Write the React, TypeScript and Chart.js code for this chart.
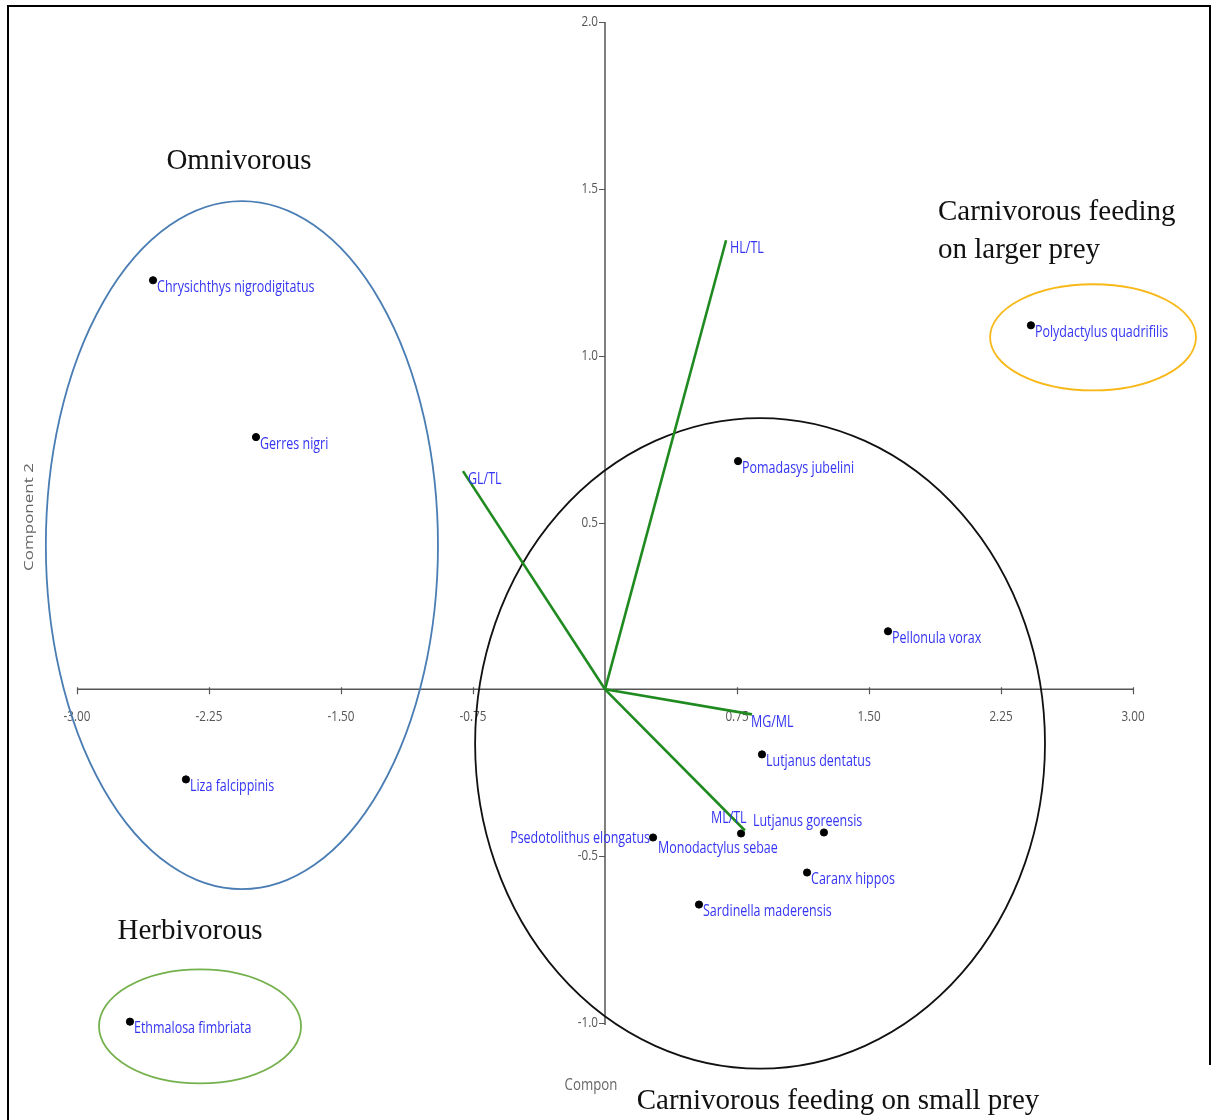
import React, { useEffect, useRef } from "react";
import { Chart, registerables } from "chart.js";

Chart.register(...registerables);

// Species scores on the first two principal components
const speciesNames = [
  "Chrysichthys nigrodigitatus",
  "Gerres nigri",
  "Liza falcippinis",
  "Ethmalosa fimbriata",
  "Polydactylus quadrifilis",
  "Pomadasys jubelini",
  "Pellonula vorax",
  "Lutjanus dentatus",
  "Lutjanus goreensis",
  "Monodactylus sebae",
  "Psedotolithus elongatus",
  "Caranx hippos",
  "Sardinella maderensis",
];
const speciesPC1 = [-2.568, -1.983, -2.381, -2.699, 2.42, 0.756, 1.608, 0.892, 1.244, 0.773, 0.273, 1.148, 0.534];
const speciesPC2 = [1.226, 0.756, -0.27, -0.996, 1.091, 0.684, 0.174, -0.195, -0.429, -0.432, -0.444, -0.549, -0.645];
// label anchor per species: [alignment, dx, dy] in px from the dot
const speciesLabelStyle: [CanvasTextAlign, number, number][] = [
  ["left", 4, 7], ["left", 4, 7], ["left", 4, 7], ["left", 4, 7], ["left", 4, 7],
  ["left", 4, 7], ["left", 4, 7], ["left", 4, 7], ["left", -71, -11], ["left", -83, 15],
  ["right", -3, 1], ["left", 4, 7], ["left", 4, 7],
];

// Variable loadings (biplot vectors)
const loadingNames = ["HL/TL", "GL/TL", "MG/ML", "ML/TL"];
const loadingPC1 = [0.688, -0.807, 0.835, 0.795];
const loadingPC2 = [1.346, 0.654, -0.075, -0.423];
const loadingLabelStyle: [CanvasTextAlign, number, number][] = [
  ["left", 4, 8], ["left", 5, 8], ["left", -1, 8], ["left", -34, -12],
];

// Axis ticks
const xTicks = [-3, -2.25, -1.5, -0.75, 0.75, 1.5, 2.25, 3];
const xTickLabels = ["-3.00", "-2.25", "-1.50", "-0.75", "0.75", "1.50", "2.25", "3.00"];
const yTicks = [2, 1.5, 1, 0.5, -0.5, -1];
const yTickLabels = ["2.0", "1.5", "1.0", "0.5", "-0.5", "-1.0"];

// Feeding groups: ellipse centre / radii in component units
const groupCenterX = [-2.063, 0.881, 2.773, -2.301];
const groupCenterY = [0.432, -0.162, 1.055, -1.01];
const groupRadiusX = [1.114, 1.619, 0.585, 0.574];
const groupRadiusY = [1.031, 0.975, 0.159, 0.171];
const groupColors = ["#4a7db3", "#111111", "#f8b818", "#74b04c"];

// Group captions (text, x, y in component units, alignment)
const captionLines = [
  "Omnivorous",
  "Carnivorous feeding",
  "on larger prey",
  "Herbivorous",
  "Carnivorous feeding on small prey",
];
const captionX = [-2.08, 1.892, 1.892, -2.358, 1.324];
const captionY = [1.583, 1.43, 1.316, -0.726, -1.235];
const captionAlign: CanvasTextAlign[] = ["center", "left", "left", "center", "center"];

const SQUEEZE = 0.78;

function squeezedText(
  ctx: CanvasRenderingContext2D,
  text: string,
  x: number,
  y: number,
  font: string,
  color: string,
  align: CanvasTextAlign,
  sx = SQUEEZE
) {
  ctx.save();
  ctx.translate(x, y);
  ctx.scale(sx, 1);
  ctx.font = font;
  ctx.fillStyle = color;
  ctx.textAlign = align;
  ctx.textBaseline = "middle";
  ctx.fillText(text, 0, 0);
  ctx.restore();
}

const biplotDecor = {
  id: "biplotDecor",
  beforeDraw(chart: any) {
    const ctx: CanvasRenderingContext2D = chart.ctx;
    ctx.save();
    ctx.fillStyle = "#ffffff";
    ctx.fillRect(0, 0, chart.width, chart.height);
    // outer frame
    ctx.strokeStyle = "#000";
    ctx.lineWidth = 2;
    ctx.beginPath();
    ctx.moveTo(8, 1120);
    ctx.lineTo(8, 6);
    ctx.lineTo(1210, 6);
    ctx.lineTo(1210, 1065);
    ctx.stroke();
    ctx.restore();
  },
  beforeDatasetsDraw(chart: any) {
    const ctx: CanvasRenderingContext2D = chart.ctx;
    const xs = chart.scales.x;
    const ys = chart.scales.y;
    const x0 = xs.getPixelForValue(0);
    const y0 = ys.getPixelForValue(0);
    ctx.save();
    // axes through the origin
    ctx.strokeStyle = "#555";
    ctx.lineWidth = 1.5;
    ctx.beginPath();
    ctx.moveTo(xs.getPixelForValue(-3), y0);
    ctx.lineTo(xs.getPixelForValue(3), y0);
    ctx.moveTo(x0, ys.getPixelForValue(2));
    ctx.lineTo(x0, ys.getPixelForValue(-1) + 2);
    ctx.stroke();
    ctx.lineWidth = 1.2;
    ctx.beginPath();
    xTicks.forEach((v) => {
      const px = Math.round(xs.getPixelForValue(v)) + 0.5;
      ctx.moveTo(px, y0 - 2);
      ctx.lineTo(px, y0 + 5);
    });
    yTicks.forEach((v) => {
      const py = Math.round(ys.getPixelForValue(v)) + 0.5;
      ctx.moveTo(x0 - 6, py);
      ctx.lineTo(x0, py);
    });
    ctx.stroke();
    xTicks.forEach((v, i) => {
      squeezedText(ctx, xTickLabels[i], xs.getPixelForValue(v), y0 + 27, "15px 'Open Sans'", "#555", "center");
    });
    yTicks.forEach((v, i) => {
      squeezedText(ctx, yTickLabels[i], x0 - 7, ys.getPixelForValue(v), "15px 'Open Sans'", "#555", "right");
    });
    // axis titles
    ctx.save();
    ctx.translate(29, 517);
    ctx.rotate(-Math.PI / 2);
    ctx.scale(1, SQUEEZE);
    ctx.font = "17px 'Open Sans'";
    ctx.fillStyle = "#666";
    ctx.textAlign = "center";
    ctx.textBaseline = "middle";
    ctx.fillText("Component 2", 0, 0);
    ctx.restore();
    squeezedText(ctx, "Compon", x0 - 14, ys.getPixelForValue(-1) + 62, "17px 'Open Sans'", "#666", "center");

    // group ellipses
    groupCenterX.forEach((cx, i) => {
      const px = xs.getPixelForValue(cx);
      const py = ys.getPixelForValue(groupCenterY[i]);
      const rx = Math.abs(xs.getPixelForValue(cx + groupRadiusX[i]) - px);
      const ry = Math.abs(ys.getPixelForValue(groupCenterY[i] + groupRadiusY[i]) - py);
      ctx.strokeStyle = groupColors[i];
      ctx.lineWidth = 1.8;
      ctx.beginPath();
      ctx.ellipse(px, py, rx, ry, 0, 0, Math.PI * 2);
      ctx.stroke();
    });

    // group captions
    captionLines.forEach((t, i) => {
      ctx.font = "29px 'Liberation Serif', 'Times New Roman', serif";
      ctx.fillStyle = "#111";
      ctx.textAlign = captionAlign[i];
      ctx.textBaseline = "middle";
      ctx.fillText(t, xs.getPixelForValue(captionX[i]), ys.getPixelForValue(captionY[i]));
    });
    ctx.restore();
  },
  afterDatasetsDraw(chart: any) {
    const ctx: CanvasRenderingContext2D = chart.ctx;
    const xs = chart.scales.x;
    const ys = chart.scales.y;
    const labelColor = "#3434f4";
    const font = "16px 'Open Sans'";
    speciesNames.forEach((name, i) => {
      const [al, dx, dy] = speciesLabelStyle[i];
      squeezedText(ctx, name, xs.getPixelForValue(speciesPC1[i]) + dx, ys.getPixelForValue(speciesPC2[i]) + dy, font, labelColor, al);
    });
    loadingNames.forEach((name, i) => {
      const [al, dx, dy] = loadingLabelStyle[i];
      squeezedText(ctx, name, xs.getPixelForValue(loadingPC1[i]) + dx, ys.getPixelForValue(loadingPC2[i]) + dy, font, labelColor, al);
    });
  },
};

export default function App() {
  const canvasRef = useRef<HTMLCanvasElement | null>(null);

  useEffect(() => {
    if (!canvasRef.current) return;
    const loadingSets = loadingNames.map((name, i) => ({
      type: "line" as const,
      label: name,
      data: [
        { x: 0, y: 0 },
        { x: loadingPC1[i], y: loadingPC2[i] },
      ],
      borderColor: "#1f8a1f",
      borderWidth: 2.6,
      pointRadius: 0,
      showLine: true,
      fill: false,
      clip: false as any,
    }));
    const chart = new Chart(canvasRef.current, {
      type: "scatter",
      data: {
        datasets: [
          ...loadingSets,
          {
            type: "scatter" as const,
            label: "Species",
            data: speciesPC1.map((x, i) => ({ x, y: speciesPC2[i] })),
            backgroundColor: "#000",
            borderColor: "#000",
            pointRadius: 3.6,
            clip: false as any,
          },
        ] as any,
      },
      options: {
        animation: false,
        responsive: false,
        maintainAspectRatio: false,
        layout: { padding: { left: 77, right: 82, top: 22, bottom: 97 } },
        scales: {
          x: { type: "linear", min: -3, max: 3, display: false },
          y: { type: "linear", min: -1, max: 2, display: false },
        },
        plugins: {
          legend: { display: false },
          tooltip: { enabled: false },
        },
      },
      plugins: [biplotDecor],
    });
    return () => chart.destroy();
  }, []);

  return (
    <div style={{ position: "absolute", left: 0, top: 0, width: 1215, height: 1120, background: "#fff" }}>
      <canvas ref={canvasRef} width={1215} height={1120} style={{ display: "block" }} />
    </div>
  );
}
